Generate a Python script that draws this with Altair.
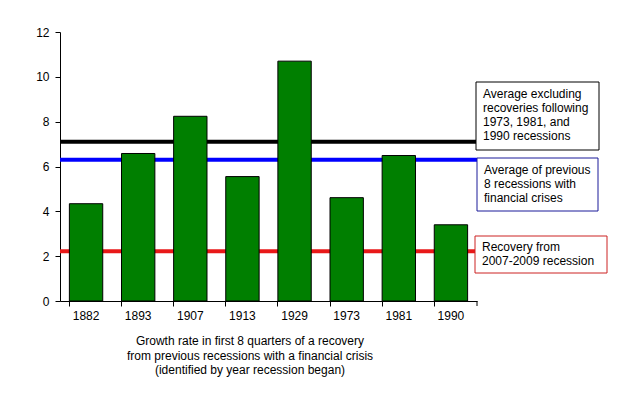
import altair as alt
import pandas as pd

years = ["1882", "1893", "1907", "1913", "1929", "1973", "1981", "1990"]
growth = [4.34, 6.58, 8.24, 5.55, 10.7, 4.61, 6.49, 3.40]

avg_excl = 7.1
avg_all = 6.3
recovery = 2.22

FONT = "Liberation Sans"
W, H = 417, 269

bars_df = pd.DataFrame({"year": years, "growth": growth})
one = alt.Chart(pd.DataFrame({"k": [0]}))

lines_df = pd.DataFrame({
    "val": [avg_excl, avg_all, recovery],
    "name": ["excl", "all", "rec"],
})

yscale = alt.Scale(domain=[0, 12], nice=False)

rules = alt.Chart(lines_df).mark_rule(strokeWidth=4).encode(
    y=alt.Y("val:Q", scale=yscale),
    color=alt.Color("name:N", scale=alt.Scale(domain=["excl", "all", "rec"],
                                               range=["#000000", "#0000ff", "#e81818"]),
                    legend=None),
)

bars = alt.Chart(bars_df).mark_bar(color="#007f00", stroke="#000000", strokeWidth=1).encode(
    x=alt.X("year:N", sort=years, title=None,
            scale=alt.Scale(paddingInner=0.36, paddingOuter=0.18),
            axis=alt.Axis(bandPosition=0, labelAngle=0, tickSize=5, labelPadding=4,
                          labelFont=FONT, labelFontSize=12, labelColor="#000",
                          domainColor="#000", tickColor="#000")),
    y=alt.Y("growth:Q", scale=yscale, title=None,
            axis=alt.Axis(values=[0, 2, 4, 6, 8, 10, 12], tickSize=5, labelPadding=6,
                          labelFont=FONT, labelFontSize=12, labelColor="#000",
                          domainColor="#000", tickColor="#000", grid=False)),
)

end_tick = one.mark_rule(color="#000").encode(
    x=alt.value(W), y=alt.value(H), y2=alt.value(H + 5)
)

def box(x1, x2, y1, y2, stroke):
    return one.mark_rect(fill="white", stroke=stroke, strokeWidth=1).encode(
        x=alt.value(x1), x2=alt.value(x2), y=alt.value(y1), y2=alt.value(y2)
    )

def label(x, y, txt):
    return one.mark_text(align="left", baseline="alphabetic", font=FONT, fontSize=12,
                         lineBreak="\n", lineHeight=14, color="#000").encode(
        x=alt.value(x), y=alt.value(y), text=alt.value(txt)
    )

box1 = box(416, 539, 50, 118, "#000000")
txt1 = label(423, 66, "Average excluding\nrecoveries following\n1973, 1981, and\n1990 recessions")
box2 = box(417, 538, 126, 179, "#1a1a99")
txt2 = label(424, 142, "Average of previous\n8 recessions with\nfinancial crises")
box3 = box(415, 547, 204, 241, "#cc2222")
txt3 = label(422, 219, "Recovery from\n2007-2009 recession")

xtitle = one.mark_text(align="center", baseline="alphabetic", font=FONT, fontSize=12,
                       lineBreak="\n", lineHeight=14.5, color="#000").encode(
    x=alt.value(190), y=alt.value(313),
    text=alt.value("Growth rate in first 8 quarters of a recovery\nfrom previous recessions with a financial crisis\n(identified by year recession began)"),
)

chart = alt.layer(
    rules, bars, end_tick, box1, txt1, box2, txt2, box3, txt3, xtitle
).properties(
    width=W, height=H,
    background="white",
    autosize=alt.AutoSizeParams(type="none"),
    padding={"left": 52, "top": 24, "right": 158, "bottom": 94},
).configure_view(stroke=None)

chart.save("out.html", embed_options={"renderer": "svg", "actions": False})
